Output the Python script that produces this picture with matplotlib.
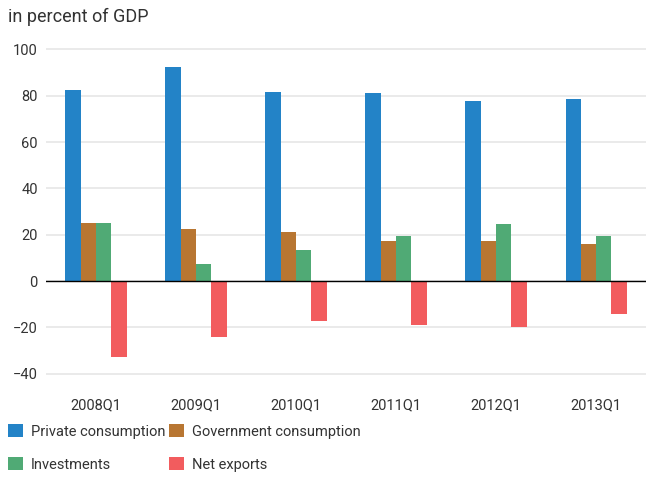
import numpy as np
import matplotlib.pyplot as plt

# data
quarters = ['2008Q1', '2009Q1', '2010Q1', '2011Q1', '2012Q1', '2013Q1']
private = [82.4, 92.4, 81.6, 81.1, 77.7, 78.5]
government = [25.0, 22.4, 21.1, 17.3, 17.3, 16.0]
investments = [25.0, 7.3, 13.4, 19.4, 24.6, 19.4]
net_exports = [-32.7, -24.0, -17.1, -19.0, -19.9, -14.2]

series = [('Private consumption', private, '#2383C7'),
          ('Government consumption', government, '#B87632'),
          ('Investments', investments, '#50AA75'),
          ('Net exports', net_exports, '#F25C5E')]

plt.rcParams['font.family'] = ['Roboto', 'DejaVu Sans']

fig = plt.figure(figsize=(6.46, 4.79), dpi=100)
ax = fig.add_axes([0.0712, 0.2004, 0.929, 0.7015])

x = np.arange(len(quarters))
w = 0.153
offsets = [-1.5, -0.5, 0.5, 1.5]
bars = []
for (name, vals, col), off in zip(series, offsets):
    bars.append(ax.bar(x + off * w, vals, w, color=col, label=name, zorder=3))

ax.set_xlim(-0.5, 5.5)
ax.set_ylim(-44, 101)
ax.set_yticks([-40, -20, 0, 20, 40, 60, 80, 100])
ax.set_xticks(x)
ax.set_xticklabels(quarters)
ax.grid(axis='y', color='#e8e8e8', linewidth=1.3, zorder=0)
ax.axhline(0, color='black', linewidth=1, zorder=4)
for s in ax.spines.values():
    s.set_visible(False)
ax.tick_params(length=0, labelsize=10.5, colors='#333333')
ax.tick_params(axis='x', pad=11)
ax.tick_params(axis='y', pad=6)

fig.text(0.012, 0.965, 'in percent of GDP', fontsize=13, color='#333333',
         va='center', ha='left')

# legend is filled row by row in the reference
order = [0, 2, 1, 3]
fig.legend([bars[i] for i in order], [series[i][0] for i in order],
           loc='upper left', bbox_to_anchor=(0.0124, 0.114), ncol=2, frameon=False,
           fontsize=10.5, handlelength=1.0, handleheight=1.0, handletextpad=0.55,
           columnspacing=0.3, labelspacing=1.25, borderaxespad=0, borderpad=0,
           labelcolor='#333333')

fig.savefig('out.png', dpi=100)
